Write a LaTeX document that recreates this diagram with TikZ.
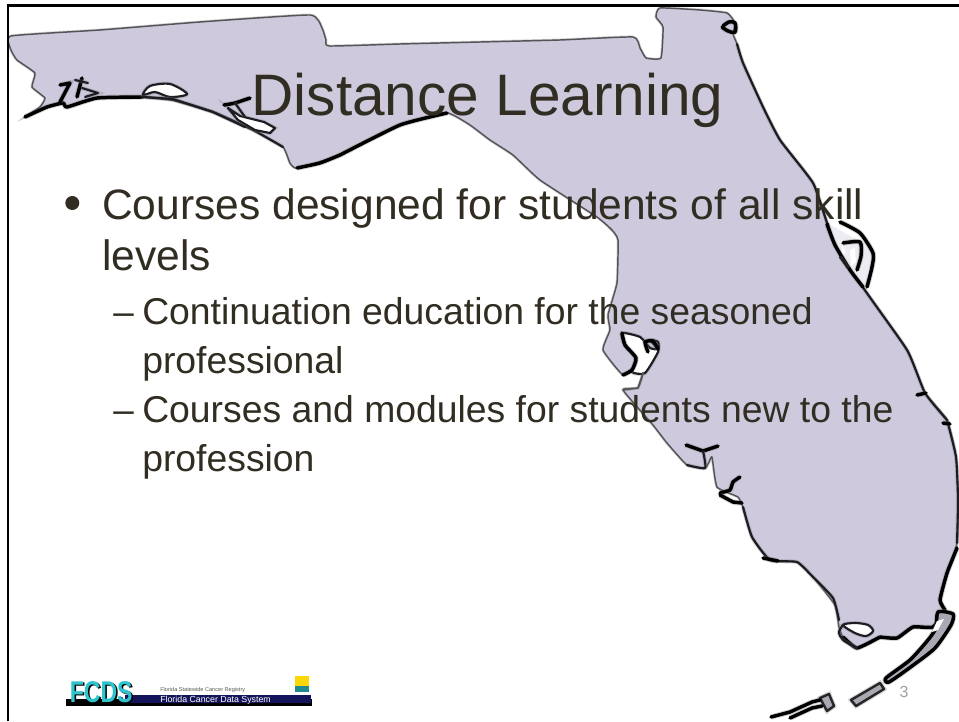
\documentclass[tikz,border=0pt]{standalone}
\usepackage{fontspec}
\setmainfont{Liberation Sans}
\definecolor{mapfill}{HTML}{CEC9DD}
\definecolor{inktext}{HTML}{312D22}
\definecolor{coast}{HTML}{1C1C22}
\definecolor{fcdscyan}{HTML}{2FC4CC}
\definecolor{fcdsnavy}{HTML}{14145A}
\tikzset{
  halo/.style={preaction={draw=gray,draw opacity=.35,line width=#1}},
  coastthin/.style={draw=coast!75!white,line width=1.1pt,line join=round,line cap=round,halo=2.2pt},
  coastthick/.style={draw=coast,line width=1.6pt,line join=round,line cap=round,halo=3pt},
  coastheavy/.style={draw=black,line width=2.6pt,line join=round,line cap=round,halo=4pt},
  islet/.style={draw=coast,fill=white,line width=1.6pt,line join=round,halo=3pt},
  keybar/.style={draw=black!85,fill=mapfill!55!gray,line width=1.8pt,line join=round,halo=3.4pt},
  bodytext/.style={anchor=base west,inner sep=0pt,text=inktext},
}
\begin{document}
\begin{tikzpicture}[x=0.75pt,y=-0.75pt]
\useasboundingbox (0,0) rectangle (959,721);
\fill[white] (0,0) rectangle (959,721);

% --- state fill and base outline
\path[fill=mapfill,coastthin] plot[smooth cycle,tension=0.25] coordinates {
 (11,36) (100,30) (200,22) (310,15) (322,28) (326,40) (329,46) (400,44) (480,42) (560,40) (633,37)
 (640,48) (646,58) (661,58) (663,27) (656,17) (660,8) (700,10) (727,13) (735,23) (733,34)
 (737,44) (743,63) (763,107) (780,140) (813,183) (827,223) (860,283) (907,350) (925,393)
 (947,420) (956,457) (958,500) (957,543) (947,573) (940,600) (945,610) (933,627) (913,627) (897,638)
 (880,637) (872,640) (857,648) (843,637) (839,627) (835,605) (813,577) (797,562)
 (770,560) (752,537) (743,507) (738,497) (717,487) (712,457) (709,462) (705,468)
 (687,465) (667,443) (653,425) (623,390) (638,388) (643,373) (636,365) (623,375)
 (603,350) (610,330) (608,315) (617,283) (618,240) (612,230) (597,217) (540,180) (513,155)
 (490,140) (470,125) (447,113) (400,125) (340,155) (297,168) (290,163) (283,147) (253,130)
 (213,112) (173,100) (143,97) (97,98) (67,107) (63,103) (47,107) (25,117) (40,107) (45,98) (32,87) (35,73) (17,60) (11,50)
};

% --- heavier stretches of coast
\draw[coastthick] plot[smooth,tension=0.3] coordinates {(737,44) (743,63) (763,107) (780,140) (813,183) (827,223)};
\draw[coastthick] plot[smooth,tension=0.3] coordinates {(827,223) (860,283) (907,350) (925,393) (947,420)};
\draw[coastthick] plot[smooth,tension=0.3] coordinates {(947,420) (956,457) (958,500) (957,543)};
\draw[coastheavy] plot[smooth,tension=0.3] coordinates {(957,548) (947,573) (940,600) (945,610)};
\draw[coastheavy] plot[smooth,tension=0.3] coordinates {(945,610) (933,627) (913,627) (897,638) (880,637)};
\draw[coastheavy] plot[smooth,tension=0.3] coordinates {(880,637) (857,648) (843,637)};
\draw[coastthick] plot[smooth,tension=0.3] coordinates {(839,620) (833,598) (813,577) (797,562) (770,560) (752,537) (743,507)};
\draw[coastheavy] (917,395) -- (926,393);
\draw[coastheavy] (943,423) -- (950,424);
\draw[coastheavy] (763,558) -- (778,561);
% panhandle south coast
\draw[coastheavy] plot[smooth,tension=0.3] coordinates {(297,168) (320,163) (340,155)};
\draw[coastheavy] plot[smooth,tension=0.3] coordinates {(340,155) (400,125) (447,113)};
\draw[coastthick] plot[smooth,tension=0.3] coordinates {(283,147) (253,130) (213,112) (173,100) (143,97)};
\draw[coastheavy] plot[smooth,tension=0.3] coordinates {(143,97) (97,98) (67,107) (63,103) (47,107) (25,117)};
\draw[coastheavy] (60,85) -- (70,83) -- (60,102);
\draw[coastheavy] (82,78) -- (77,97);
\draw[coastthick] (75,80) -- (88,83) (82,88) -- (98,93) -- (85,97);

% panhandle bays and barrier islands
\path[islet] plot[smooth cycle,tension=0.5] coordinates {(143,95) (150,86) (170,84) (187,94) (170,97) (155,92)};
\path[islet] (228,108) -- (240,116) -- (264,122) -- (275,128) -- (270,133) -- (255,130) -- (238,120) -- cycle;
\draw[coastheavy] plot[smooth,tension=0.4] coordinates {(224,105) (235,103) (250,98)};
\draw[coastthick] (235,103) -- (245,117);
\draw[coastthick] (143,97) -- (173,99) -- (213,112) -- (245,127);

% northeast inlet (Jacksonville)
\draw[coastheavy] plot[smooth,tension=0.6] coordinates {(722,27) (728,31) (735,32) (735,23) (729,22) (723,26)};

% Indian River lagoon
\path[fill=mapfill!35!white] plot[smooth cycle,tension=0.4] coordinates {(827,224) (848,235) (868,245) (873,258) (868,272) (865,286) (850,270) (835,245)};
\fill[white] (850,250) -- (855,248) -- (856,262) -- (851,266) -- cycle;
\fill[white] (842,246) -- (846,252) -- (841,258) -- cycle;
\draw[coastheavy] plot[smooth,tension=0.4] coordinates {(827,224) (835,245) (850,270) (863,287)};
\draw[coastheavy] plot[smooth,tension=0.4] coordinates {(840,222) (860,233) (873,253) (872,267) (867,287)};
\draw[coastheavy] plot[smooth,tension=0.4] coordinates {(843,243) (860,242) (861,256) (857,270)};
\draw[coastthick] (840,257) -- (848,268);

% Tampa Bay
\path[islet] plot[smooth cycle,tension=0.35] coordinates {(622,333) (640,337) (650,348) (658,349) (650,340) (658,342) (658,352) (645,373) (632,372) (636,358) (625,345)};
\draw[coastheavy] plot[smooth,tension=0.35] coordinates {(622,333) (625,345) (636,358) (632,370) (623,375)};
\draw[coastheavy] plot[smooth,tension=0.35] coordinates {(648,352) (645,342) (653,341) (658,349)};
\draw[coastthin] (623,390) -- (638,388) -- (643,373);

% Charlotte Harbor and Naples inlets
\draw[coastheavy] (686,445) -- (703,451) -- (718,446);
\draw[coastthick] plot[smooth,tension=0.35] coordinates {(703,451) (705,468) (687,465)};
\draw[coastheavy] plot[smooth,tension=0.3] coordinates {(720,493) (730,490) (733,482) (740,477)};
\draw[coastheavy] (720,495) -- (733,502) -- (742,503);

% Florida Bay
\path[islet] plot[smooth cycle,tension=0.5] coordinates {(843,625) (855,623) (868,625) (873,631) (866,636) (855,633)};
\draw[coastthick] plot[smooth,tension=0.5] coordinates {(843,625) (839,632) (843,640) (857,648)};

% Keys
\path[fill=mapfill!55!gray,coastheavy] plot[smooth cycle,tension=0.4] coordinates {(938,612) (953,614) (951,625) (935,648) (912,666) (889,682) (886,678) (910,660) (928,640) (936,628)};
\fill[white] (937,621) -- (944,619) -- (938,630) -- (932,632) -- cycle;
\path[keybar] (851,700) -- (880,683) -- (884,689) -- (856,706) -- cycle;
\path[keybar] (820,698) -- (829,694) -- (834,706) -- (827,711) -- cycle;
\draw[coastheavy] (771,717) -- (790,712) -- (812,702) -- (820,700);
\draw[coastheavy] (790,718) -- (812,708) -- (822,706);

% --- slide frame
\draw[black,line width=2pt] (8,721) -- (8,5.5) -- (959,5.5);

% --- logo
\fill[black] (66,699) rectangle (312,706);
\fill[fcdsnavy] (125,695) rectangle (311,703);
\fill[fcdscyan!70!black] (295,676) rectangle (309,692);
\fill[yellow!75!orange] (295,676) rectangle (309,686);
\node[anchor=base west,inner sep=0pt,text=black] (fcdsshadow) at (71,703.5)
  {\fontsize{22.5}{22.5}\selectfont\bfseries\addfontfeatures{FakeStretch=0.77}FCDS};
\node[anchor=base west,inner sep=0pt,text=fcdscyan] (fcds) at (69.5,702)
  {\fontsize{22.5}{22.5}\selectfont\bfseries\addfontfeatures{FakeStretch=0.77}FCDS};
\node[anchor=base west,inner sep=0pt,text=black!65] (registry) at (160,691)
  {\fontsize{4.2}{4.5}\selectfont Florida Statewide Cancer Registry};
\node[anchor=base west,inner sep=0pt,text=white] (system) at (160,702.5)
  {\fontsize{6.6}{7}\selectfont Florida Cancer Data System};

% --- text
\node[anchor=base,inner sep=0pt,text=inktext] (title) at (487.5,115)
  {\fontsize{43.9}{44}\selectfont Distance Learning};
\fill[inktext] (72.3,203) circle (7);
\node[bodytext] (l1) at (102,219) {\fontsize{31.9}{33}\selectfont Courses designed for students of all skill};
\node[bodytext] (l2) at (102,270) {\fontsize{31.9}{33}\selectfont levels};
\node[bodytext] (l3d) at (113,324) {\fontsize{27.6}{29}\selectfont –};
\node[bodytext] (l3) at (142,324) {\fontsize{28}{29}\selectfont Continuation education for the seasoned};
\node[bodytext] (l4) at (142,373) {\fontsize{28}{29}\selectfont professional};
\node[bodytext] (l5d) at (113,422) {\fontsize{27.6}{29}\selectfont –};
\node[bodytext] (l5) at (142,422) {\fontsize{28}{29}\selectfont Courses and modules for students new to the};
\node[bodytext] (l6) at (142,471) {\fontsize{28}{29}\selectfont profession};
\node[anchor=base,inner sep=0pt,text=gray!75] (pagenum) at (904,697.5) {\fontsize{12}{12}\selectfont 3};
\end{tikzpicture}
\end{document}
